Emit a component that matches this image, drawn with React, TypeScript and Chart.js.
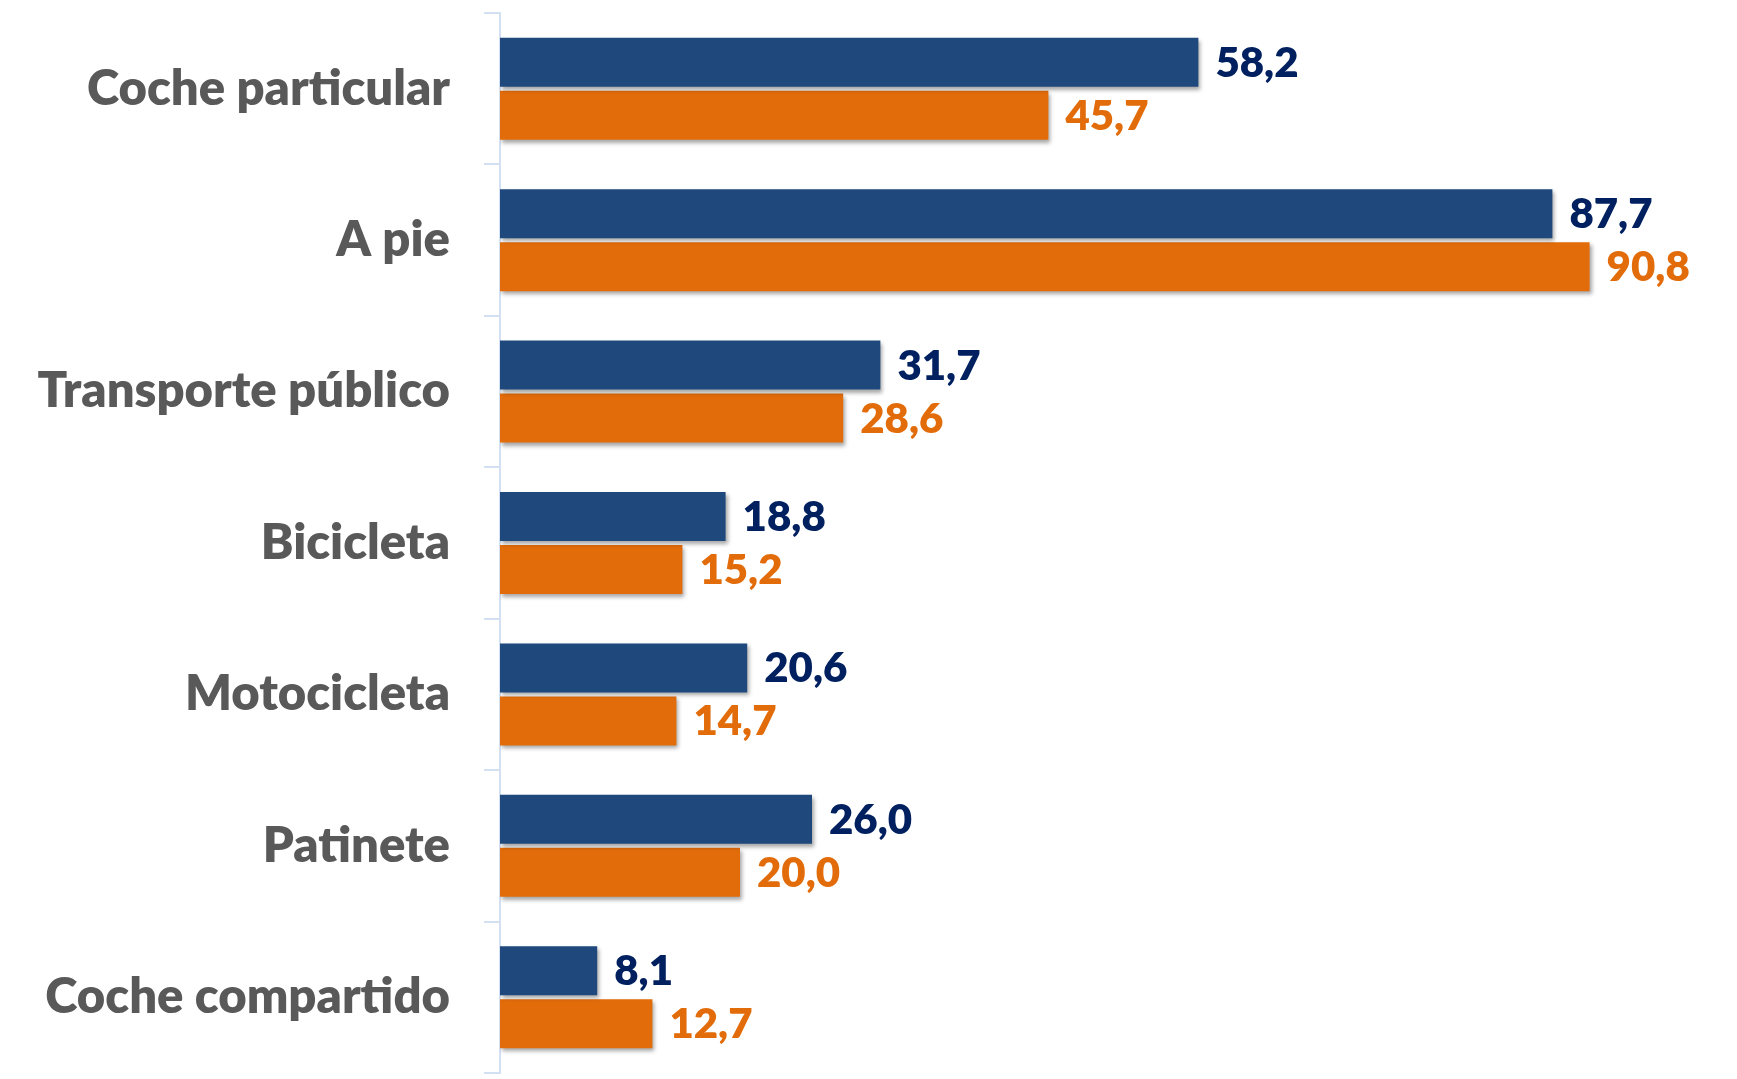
import React, { useEffect, useRef } from "react";
import { Chart, registerables } from "chart.js";

Chart.register(...registerables);

const categories = [
  "Coche particular",
  "A pie",
  "Transporte público",
  "Bicicleta",
  "Motocicleta",
  "Patinete",
  "Coche compartido",
];
const seriesA = [58.2, 87.7, 31.7, 18.8, 20.6, 26.0, 8.1];
const seriesB = [45.7, 90.8, 28.6, 15.2, 14.7, 20.0, 12.7];
const seriesNames = ["Serie 1", "Serie 2"];

const BLUE = "#1F497D";
const ORANGE = "#E36C0A";
const BLUE_TEXT = "#002060";
const LABEL_GREY = "#595959";
const AXIS_COLOR = "#D3E0F2";

const fmt = (v: number) => v.toFixed(1).replace(".", ",");

const shadowPlugin = {
  id: "barShadow",
  beforeDatasetsDraw(chart: any) {
    const ctx = chart.ctx;
    ctx.save();
    ctx.shadowColor = "rgba(0,0,0,0.35)";
    ctx.shadowBlur = 4;
    ctx.shadowOffsetX = 2;
    ctx.shadowOffsetY = 3;
  },
  afterDatasetsDraw(chart: any) {
    chart.ctx.restore();
  },
};

const valueLabelPlugin = {
  id: "valueLabels",
  afterDatasetsDraw(chart: any) {
    const ctx = chart.ctx;
    ctx.save();
    ctx.font = "800 42px Lato";
    ctx.textAlign = "left";
    ctx.textBaseline = "middle";
    chart.data.datasets.forEach((ds: any, di: number) => {
      const meta = chart.getDatasetMeta(di);
      ctx.fillStyle = di === 0 ? BLUE_TEXT : ORANGE;
      meta.data.forEach((bar: any, i: number) => {
        ctx.fillText(fmt(ds.data[i]), bar.x + 17, bar.y + 1);
      });
    });
    ctx.restore();
  },
};

export default function App() {
  const ref = useRef<HTMLCanvasElement | null>(null);

  useEffect(() => {
    document.body.style.margin = "0";
    const canvas = ref.current;
    if (!canvas) return;
    const chart = new Chart(canvas, {
      type: "bar",
      data: {
        labels: categories,
        datasets: [
          {
            label: seriesNames[0],
            data: seriesA,
            backgroundColor: BLUE,
            categoryPercentage: 0.7,
            barPercentage: 0.925,
          },
          {
            label: seriesNames[1],
            data: seriesB,
            backgroundColor: ORANGE,
            categoryPercentage: 0.7,
            barPercentage: 0.925,
          },
        ],
      },
      options: {
        indexAxis: "y",
        animation: false,
        responsive: false,
        devicePixelRatio: 1,
        layout: { padding: { top: 13, bottom: 6, right: 37, left: 0 } },
        plugins: {
          legend: { display: false },
          tooltip: { enabled: false },
        },
        scales: {
          x: {
            display: false,
            min: 0,
            max: 100,
          },
          y: {
            afterFit(scale: any) {
              scale.width = 500;
              scale.paddingTop = 0;
              scale.paddingBottom = 0;
            },
            border: { display: true, color: AXIS_COLOR, width: 2 },
            grid: {
              drawOnChartArea: false,
              drawTicks: true,
              tickLength: 16,
              color: AXIS_COLOR,
              lineWidth: 2,
              offset: true,
            },
            ticks: {
              color: LABEL_GREY,
              font: { family: "Lato", weight: "800", size: 49 },
              padding: 34,
            },
          },
        },
      },
      plugins: [shadowPlugin, valueLabelPlugin],
    } as any);
    return () => chart.destroy();
  }, []);

  return (
    <div style={{ width: 1737, height: 1079, background: "#fff" }}>
      <canvas ref={ref} width={1737} height={1079} style={{ display: "block" }} />
    </div>
  );
}
